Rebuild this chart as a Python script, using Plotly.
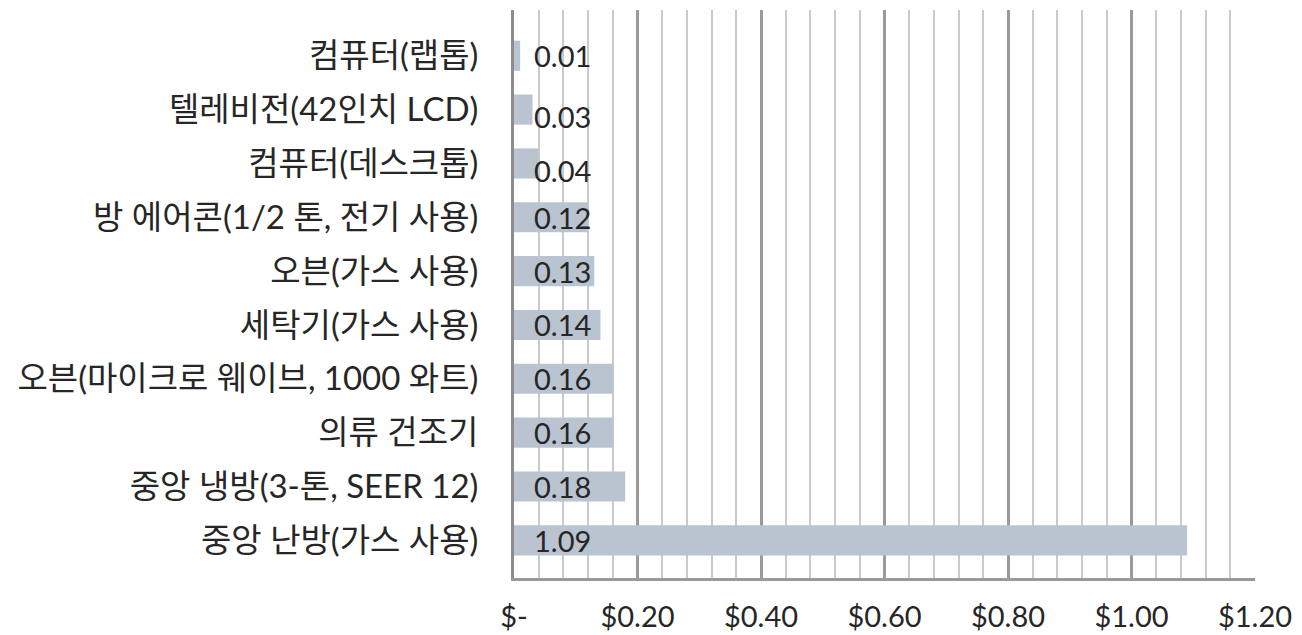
import plotly.graph_objects as go

# Data (bottom to top in plot order)
categories = [
    "중앙 난방(가스 사용)",
    "중앙 냉방(3-톤, SEER 12)",
    "의류 건조기",
    "오븐(마이크로 웨이브, 1000 와트)",
    "세탁기(가스 사용)",
    "오븐(가스 사용)",
    "방 에어콘(1/2 톤, 전기 사용)",
    "컴퓨터(데스크톱)",
    "텔레비전(42인치 LCD)",
    "컴퓨터(랩톱)",
]
values = [1.09, 0.18, 0.16, 0.16, 0.14, 0.13, 0.12, 0.04, 0.03, 0.01]
tick_vals = [0, 0.2, 0.4, 0.6, 0.8, 1.0, 1.2]
tick_text = ["$-", "$0.20", "$0.40", "$0.60", "$0.80", "$1.00", "$1.20"]

FONT = "Lato, 'Noto Sans CJK KR', sans-serif"
TXT = "#262626"

fig = go.Figure()
fig.add_trace(go.Bar(
    x=values, y=categories, orientation="h",
    marker=dict(color="#BAC4D0", line=dict(width=0)),
    width=0.56, hoverinfo="skip",
))

# Excel places two small labels slightly lower
nudge = {"컴퓨터(데스크톱)": -7, "텔레비전(42인치 LCD)": -7}
for c, v in zip(categories, values):
    fig.add_annotation(
        x=0, y=c, xref="x", yref="y", text=f"{v:.2f}",
        showarrow=False, xanchor="left", xshift=18, yshift=nudge.get(c, 0),
        font=dict(family=FONT, size=29, color=TXT),
    )

fig.update_layout(
    width=1302, height=635,
    margin=dict(l=514, r=47, t=10, b=57),
    paper_bgcolor="white", plot_bgcolor="white",
    showlegend=False,
    font=dict(family=FONT, size=29, color=TXT),
    xaxis=dict(
        range=[0, 1.2], tickvals=tick_vals, ticktext=tick_text,
        showgrid=True, gridcolor="#9A9A9A", gridwidth=3,
        minor=dict(dtick=0.04, showgrid=True, gridcolor="#CACACA", gridwidth=2, tick0=0),
        showline=True, linecolor="#9A9A9A", linewidth=3,
        zeroline=False, ticks="", ticklabelstandoff=11, automargin=False,
        tickfont=dict(family=FONT, size=29, color=TXT),
    ),
    yaxis=dict(
        range=[-0.7, 9.85], showgrid=False, zeroline=False,
        showline=True, linecolor="#8C8C8C", linewidth=3,
        ticks="", ticklabelstandoff=26, automargin=False,
        tickfont=dict(family=FONT, size=33, color=TXT),
    ),
)

# remove the default 8px page margin so the figure fills the window exactly
fig.write_html(
    "out.html",
    config={"displayModeBar": False},
    post_script="document.body.style.margin='0';document.body.style.overflow='hidden';",
)
